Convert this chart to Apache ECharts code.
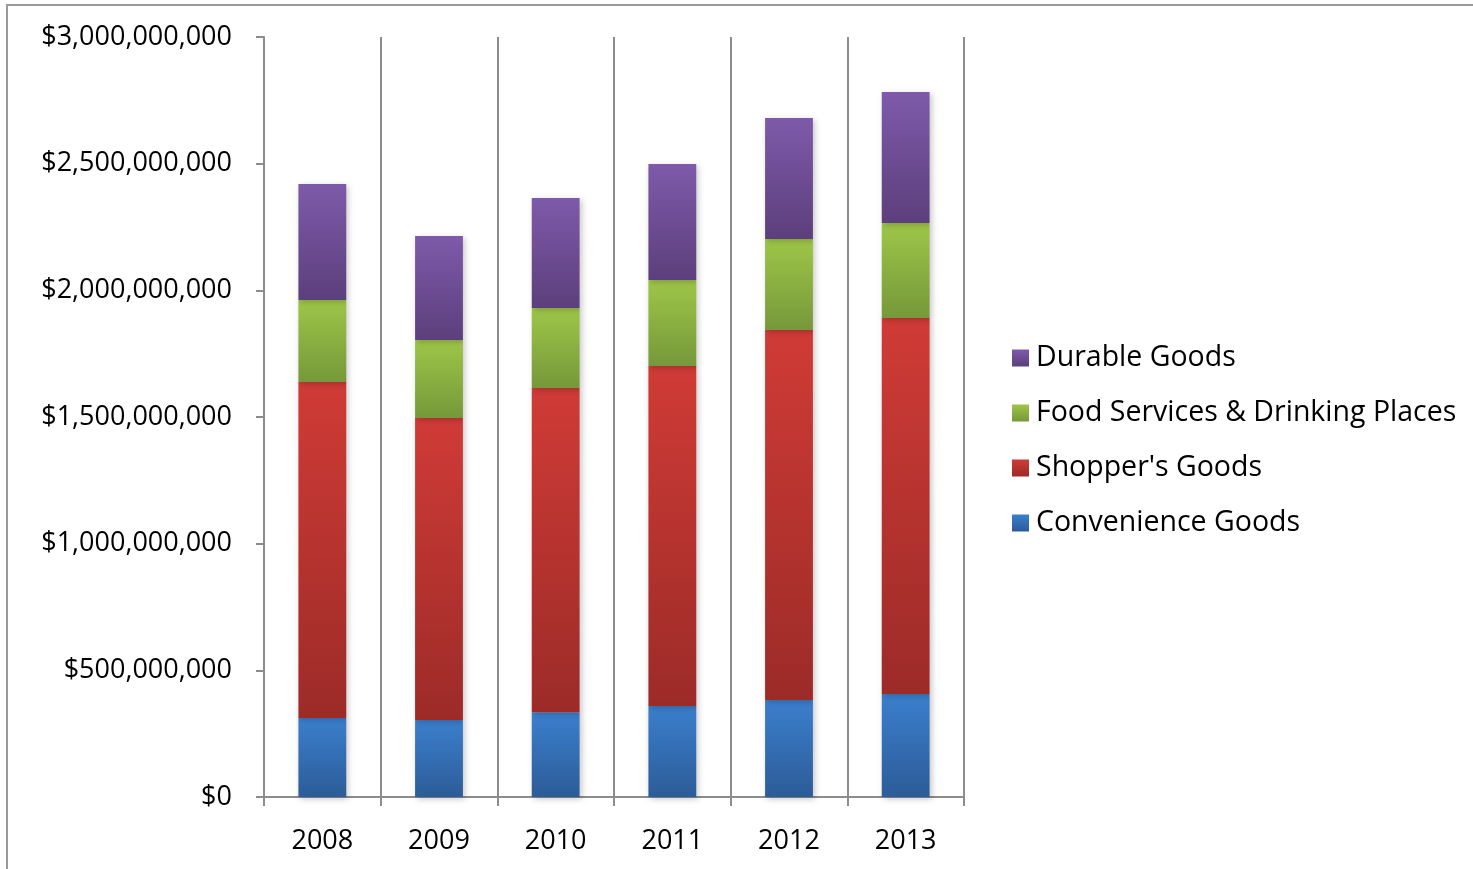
<!DOCTYPE html>
<html>
<head>
<meta charset="utf-8">
<script src="https://cdn.jsdelivr.net/npm/echarts@6/dist/echarts.min.js"></script>
<style>
  html, body { margin: 0; padding: 0; background: #fff; }
  #chart { width: 1473px; height: 869px; }
</style>
</head>
<body>
<div id="chart"></div>
<script>
// Retail sales by category, 2008-2013
const years = ['2008', '2009', '2010', '2011', '2012', '2013'];
const convenienceGoods = [312000000, 304000000, 335000000, 359000000, 383000000, 407000000];
const shoppersGoods    = [1326000000, 1192000000, 1279000000, 1342000000, 1460000000, 1484000000];
const foodServices     = [324000000, 308000000, 316000000, 340000000, 360000000, 375000000];
const durableGoods     = [458000000, 410000000, 434000000, 458000000, 477000000, 517000000];
const yTicks = [0, 500000000, 1000000000, 1500000000, 2000000000, 2500000000, 3000000000];

const FONT = '"Open Sans", "Noto Sans", sans-serif';

function grad(top, bottom) {
  return new echarts.graphic.LinearGradient(0, 0, 0, 1, [
    { offset: 0, color: top },
    { offset: 1, color: bottom }
  ]);
}

function barSeries(name, data, top, bottom) {
  return {
    name: name,
    type: 'bar',
    stack: 'total',
    barWidth: '41%',
    data: data,
    itemStyle: {
      color: grad(top, bottom),
      shadowBlur: 6,
      shadowColor: 'rgba(0,0,0,0.22)',
      shadowOffsetX: 2,
      shadowOffsetY: 2
    },
    emphasis: { disabled: true }
  };
}

const chart = echarts.init(document.getElementById('chart'), null, { renderer: 'canvas' });

chart.setOption({
  animation: false,
  backgroundColor: '#ffffff',
  graphic: [{
    type: 'rect',
    shape: { x: 7, y: 5, width: 1480, height: 880 },
    style: { fill: 'none', stroke: '#9a9a9a', lineWidth: 2 },
    silent: true,
    z: -1
  }],
  grid: { left: 264, right: 509, top: 37, bottom: 72, containLabel: false },
  legend: {
    orient: 'vertical',
    left: 1007,
    top: 338,
    itemWidth: 17,
    itemHeight: 17,
    itemGap: 25,
    icon: 'rect',
    data: ['Durable Goods', 'Food Services & Drinking Places', "Shopper's Goods", 'Convenience Goods'],
    textStyle: { fontFamily: FONT, fontSize: 28.5, color: '#000', lineHeight: 30, padding: [0, 0, 0, 2] }
  },
  xAxis: {
    type: 'category',
    data: years,
    boundaryGap: true,
    axisLine: { show: true, lineStyle: { color: '#8c8c8c', width: 2 } },
    axisTick: { show: true, length: 9, alignWithLabel: false, lineStyle: { color: '#8c8c8c', width: 2 } },
    splitLine: { show: true, lineStyle: { color: '#8c8c8c', width: 2 } },
    axisLabel: { fontFamily: FONT, fontSize: 27, color: '#000', margin: 31 }
  },
  yAxis: {
    type: 'value',
    min: 0,
    max: 3000000000,
    interval: 500000000,
    axisLine: { show: true, lineStyle: { color: '#8c8c8c', width: 2 } },
    axisTick: { show: true, length: 8, lineStyle: { color: '#8c8c8c', width: 2 } },
    splitLine: { show: false },
    axisLabel: {
      fontFamily: FONT,
      fontSize: 27,
      color: '#000',
      margin: 32,
      formatter: function (v) {
        return yTicks.indexOf(v) >= 0 ? '$' + v.toLocaleString('en-US') : '';
      }
    }
  },
  series: [
    barSeries('Convenience Goods', convenienceGoods, '#3b7fcd', '#2c5c98'),
    barSeries("Shopper's Goods", shoppersGoods, '#d03b36', '#9c2b28'),
    barSeries('Food Services & Drinking Places', foodServices, '#9ec648', '#76983a'),
    barSeries('Durable Goods', durableGoods, '#7e5aaa', '#5c3f7c')
  ]
});
</script>
</body>
</html>
